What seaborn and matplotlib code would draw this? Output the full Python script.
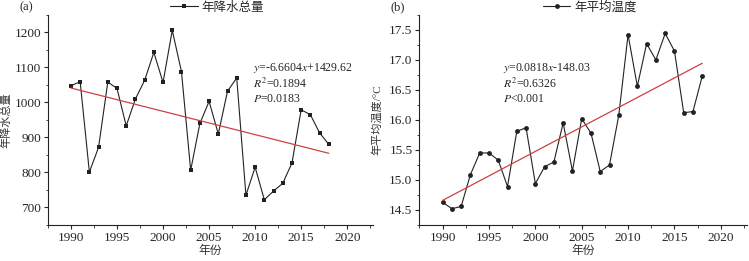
import numpy as np
import pandas as pd
import seaborn as sns
import matplotlib.pyplot as plt
from matplotlib.ticker import MultipleLocator

years = list(range(1990, 2019))
precip = [1048, 1059, 801, 872, 1058, 1040, 933, 1010, 1063, 1143,
          1057, 1206, 1088, 806, 940, 1003, 910, 1032, 1070, 735,
          815, 722, 747, 769, 827, 979, 965, 913, 880]
temp = [14.63, 14.52, 14.56, 15.09, 15.45, 15.45, 15.33, 14.89, 15.81, 15.87,
        14.94, 15.22, 15.30, 15.95, 15.15, 16.02, 15.78, 15.14, 15.25, 16.08,
        17.42, 16.56, 17.27, 17.00, 17.44, 17.15, 16.12, 16.14, 16.73]

df = pd.DataFrame({'year': years, 'precip': precip, 'temp': temp})

sns.set_style('ticks')
plt.rcParams['font.family'] = ['Liberation Serif', 'Noto Sans CJK SC']
plt.rcParams['mathtext.fontset'] = 'stix'
plt.rcParams['font.size'] = 8

fig = plt.figure(figsize=(7.49, 2.61), dpi=100)
ax1 = fig.add_axes([0.064, 0.138, 0.434, 0.805])
ax2 = fig.add_axes([0.560, 0.138, 0.437, 0.805])

panels = [
    (ax1, 'precip', 's', '年降水总量', '年降水总量', (650, 1250), 100, 50, '(a)',
     [r'$y$=-6.6604$x$+1429.62', r'$R^2$=0.1894', r'$P$=0.0183'], 0.63),
    (ax2, 'temp', 'o', '年平均温度', '年平均温度/°C', (14.25, 17.75), 0.5, 0.25, '(b)',
     [r'$y$=0.0818$x$-148.03', r'$R^2$=0.6326', r'$P$<0.001'], 0.255),
]

for ax, col, mk, leg, ylab, ylim, major, minor, tag, eqs, ex in panels:
    sns.lineplot(data=df, x='year', y=col, ax=ax, color='#222222', lw=0.8,
                 marker=mk, markersize=3.5, markeredgewidth=0, label=leg)
    sns.regplot(data=df, x='year', y=col, ax=ax, scatter=False, ci=None,
                line_kws={'color': '#d04040', 'lw': 0.9})
    ax.set_xlim(1987.5, 2022.8)
    ax.set_ylim(*ylim)
    ax.xaxis.set_major_locator(MultipleLocator(5))
    ax.xaxis.set_minor_locator(MultipleLocator(2.5))
    ax.yaxis.set_major_locator(MultipleLocator(major))
    ax.yaxis.set_minor_locator(MultipleLocator(minor))
    ax.tick_params(which='major', length=3, width=0.8, labelsize=9.5, pad=2)
    ax.tick_params(which='minor', length=1.8, width=0.6)
    if col == 'temp':
        ax.yaxis.set_major_formatter(plt.FormatStrFormatter('%.1f'))
    ax.set_xlabel('年份', fontsize=8.5, color='#333333', labelpad=1)
    ax.set_ylabel(ylab, fontsize=8, color='#333333')
    ax.yaxis.set_label_coords(-0.112, 0.5)
    sns.despine(ax=ax)
    for s in ['left', 'bottom']:
        ax.spines[s].set_color('#222222')
        ax.spines[s].set_linewidth(0.8)
    ax.legend(loc='center', bbox_to_anchor=(0.52, 1.035), frameon=False,
              fontsize=9, handlelength=2.2, handletextpad=0.3, borderpad=0)
    ax.text(-0.065, 1.035, tag, transform=ax.transAxes, ha='center', va='center',
            fontsize=9)
    for i, t in enumerate(eqs):
        ax.text(ex, 0.745 - i * 0.072, t, transform=ax.transAxes, ha='left',
                va='center', fontsize=8.5)

fig.savefig('out.png', dpi=100)
